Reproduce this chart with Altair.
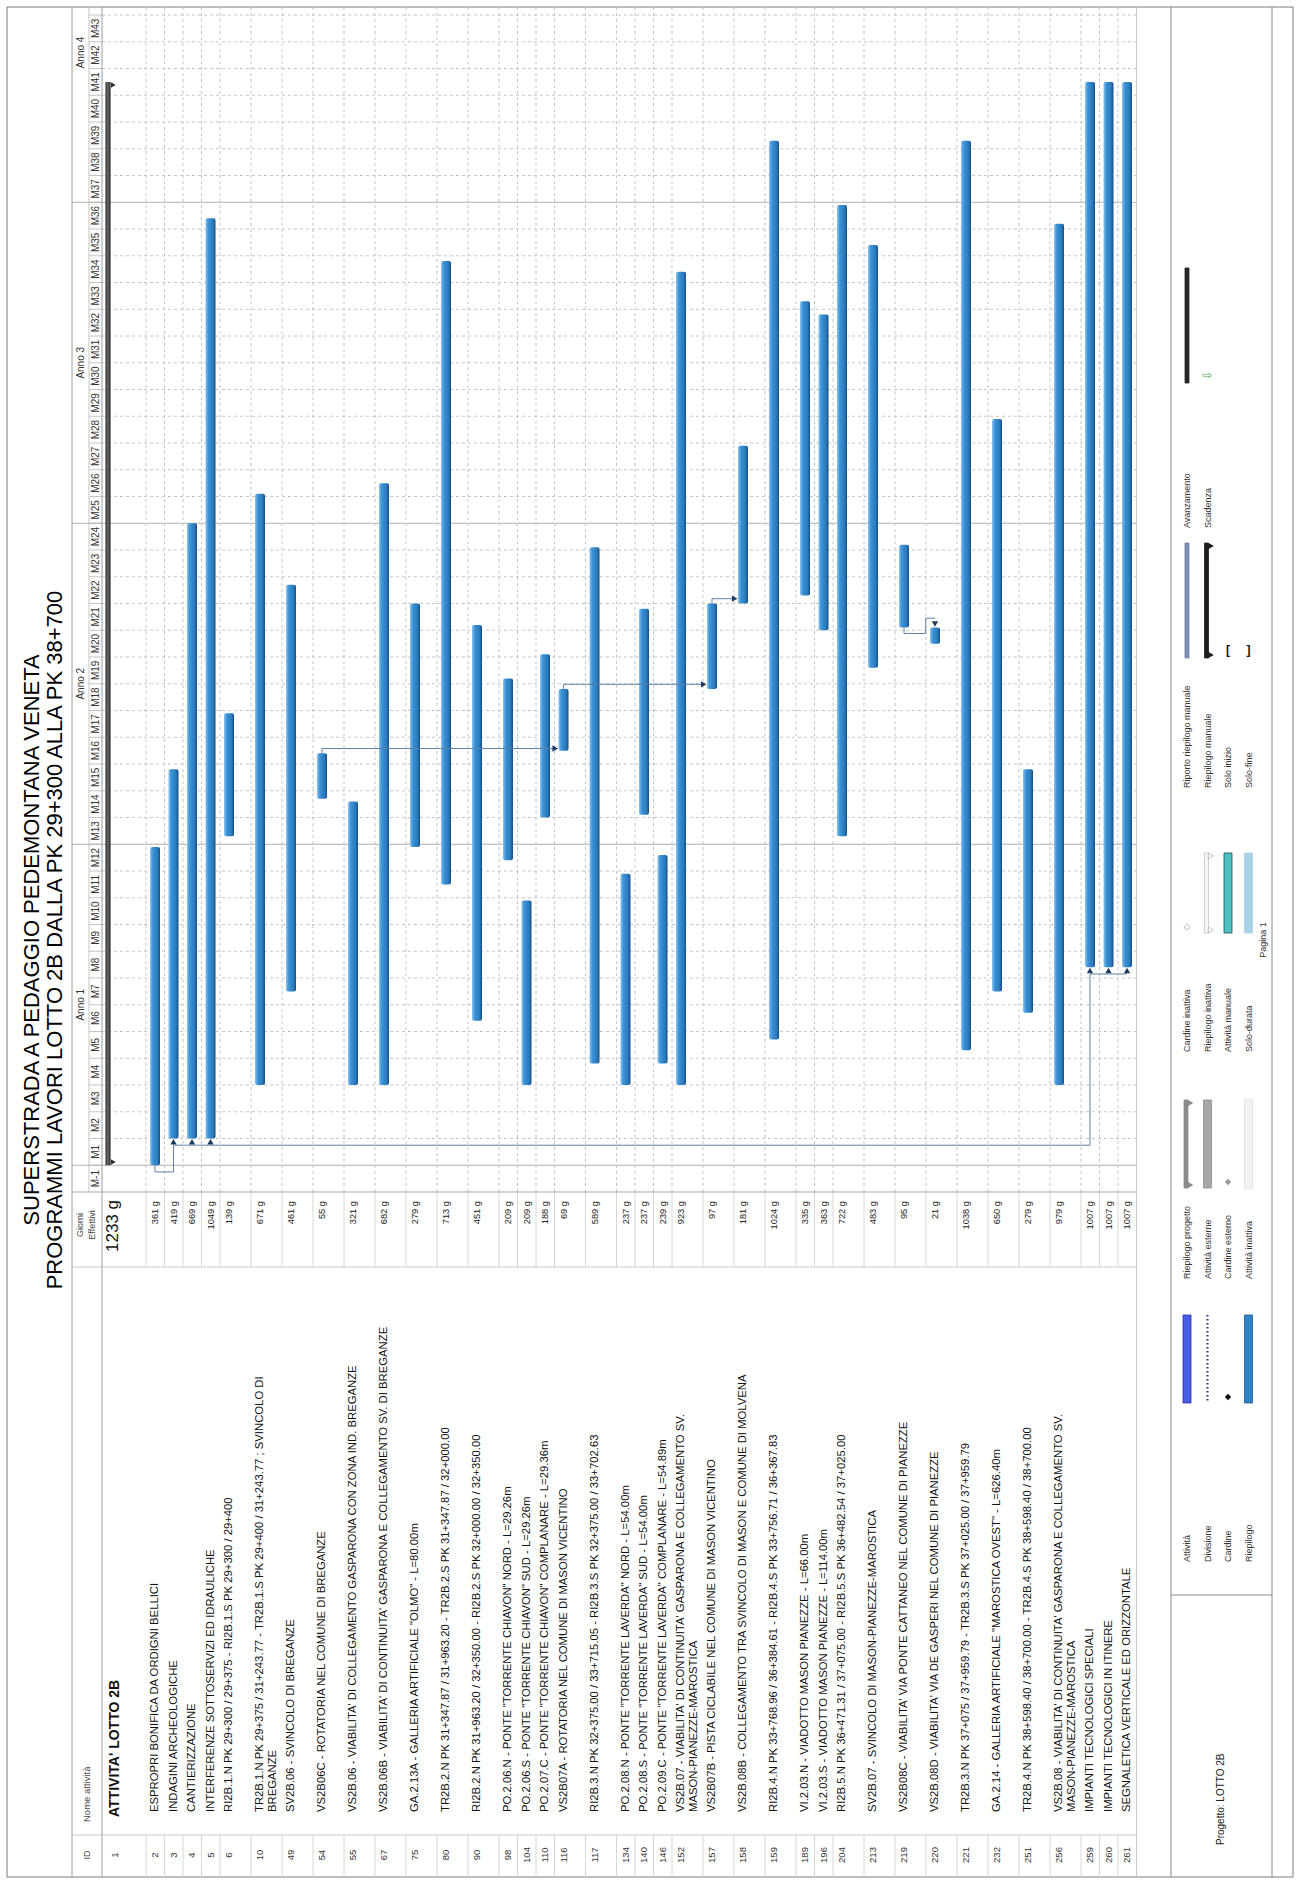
import altair as alt
import pandas as pd

# ------------------------------------------------------------------ data
IDS = [1, 2, 3, 4, 5, 6, 10, 49, 54, 55, 67, 75, 80, 90, 98, 104, 110, 116, 117,
       134, 140, 146, 152, 157, 158, 159, 189, 196, 204, 213, 219, 220, 221, 232,
       251, 256, 259, 260, 261]
NAMES = [
    "ATTIVITA' LOTTO 2B",
    "ESPROPRI BONIFICA DA ORDIGNI BELLICI",
    "INDAGINI ARCHEOLOGICHE",
    "CANTIERIZZAZIONE",
    "INTERFERENZE SOTTOSERVIZI ED IDRAULICHE",
    "RI2B.1.N PK 29+300 / 29+375 - RI2B.1.S PK 29+300 / 29+400",
    "TR2B.1.N PK 29+375 / 31+243.77 - TR2B.1.S PK 29+400 / 31+243.77 ; SVINCOLO DI\nBREGANZE",
    "SV2B.06 - SVINCOLO DI BREGANZE",
    "VS2B06C - ROTATORIA NEL COMUNE DI BREGANZE",
    "VS2B.06 - VIABILITA' DI COLLEGAMENTO GASPARONA CON ZONA IND. BREGANZE",
    "VS2B.06B - VIABILITA' DI CONTINUITA' GASPARONA E COLLEGAMENTO SV. DI BREGANZE",
    "GA.2.13A - GALLERIA ARTIFICIALE \"OLMO\" - L=80.00m",
    "TR2B.2.N PK 31+347.87 / 31+963.20 - TR2B.2.S PK 31+347.87 / 32+000.00",
    "RI2B.2.N PK 31+963.20 / 32+350.00 - RI2B.2.S PK 32+000.00 / 32+350.00",
    "PO.2.06.N - PONTE \"TORRENTE CHIAVON\" NORD - L=29.26m",
    "PO.2.06.S - PONTE \"TORRENTE CHIAVON\" SUD - L=29.26m",
    "PO.2.07.C - PONTE \"TORRENTE CHIAVON\" COMPLANARE - L=29.36m",
    "VS2B07A - ROTATORIA NEL COMUNE DI MASON VICENTINO",
    "RI2B.3.N PK 32+375.00 / 33+715.05 - RI2B.3.S PK 32+375.00 / 33+702.63",
    "PO.2.08.N - PONTE \"TORRENTE LAVERDA\" NORD - L=54.00m",
    "PO.2.08.S - PONTE \"TORRENTE LAVERDA\" SUD - L=54.00m",
    "PO.2.09.C - PONTE \"TORRENTE LAVERDA\" COMPLANARE - L=54.89m",
    "VS2B.07 - VIABILITA' DI CONTINUITA' GASPARONA E COLLEGAMENTO SV.\nMASON-PIANEZZE-MAROSTICA",
    "VS2B07B - PISTA CICLABILE NEL COMUNE DI MASON VICENTINO",
    "VS2B.08B - COLLEGAMENTO TRA SVINCOLO DI MASON E COMUNE DI MOLVENA",
    "RI2B.4.N PK 33+768.96 / 36+384.61 - RI2B.4.S PK 33+756.71 / 36+367.83",
    "VI.2.03.N - VIADOTTO MASON PIANEZZE - L=66.00m",
    "VI.2.03.S - VIADOTTO MASON PIANEZZE - L=114.00m",
    "RI2B.5.N PK 36+471.31 / 37+075.00 - RI2B.5.S PK 36+482.54 / 37+025.00",
    "SV2B.07 - SVINCOLO DI MASON-PIANEZZE-MAROSTICA",
    "VS2B08C - VIABILITA' VIA PONTE CATTANEO NEL COMUNE DI PIANEZZE",
    "VS2B.08D - VIABILITA' VIA DE GASPERI NEL COMUNE DI PIANEZZE",
    "TR2B.3.N PK 37+075 / 37+959.79 - TR2B.3.S PK 37+025.00 / 37+959.79",
    "GA.2.14 - GALLERIA ARTIFICIALE \"MAROSTICA OVEST\" - L=626.40m",
    "TR2B.4.N PK 38+598.40 / 38+700.00 - TR2B.4.S PK 38+598.40 / 38+700.00",
    "VS2B.08 - VIABILITA' DI CONTINUITA' GASPARONA E COLLEGAMENTO SV.\nMASON-PIANEZZE-MAROSTICA",
    "IMPIANTI TECNOLOGICI SPECIALI",
    "IMPIANTI TECNOLOGICI IN ITINERE",
    "SEGNALETICA VERTICALE ED ORIZZONTALE",
]
DAYS = [1233, 361, 419, 669, 1049, 139, 671, 461, 55, 321, 682, 279, 713, 451,
        209, 209, 188, 69, 589, 237, 237, 239, 923, 97, 181, 1024, 335, 363, 722,
        483, 95, 21, 1038, 650, 279, 979, 1007, 1007, 1007]
# start / end in months (0 = start of M1)
START = [0.0, 0.0, 1.0, 1.0, 1.0, 12.3, 3.0, 6.5, 13.7, 3.0, 3.0, 11.9, 10.5, 5.4,
         11.4, 3.0, 13.0, 15.5, 3.8, 3.0, 13.1, 3.8, 3.0, 17.8, 21.0, 4.7, 21.3,
         20.0, 12.3, 18.6, 20.1, 19.5, 4.3, 6.5, 5.7, 3.0, 7.4, 7.4, 7.4]
END = [40.5, 11.9, 14.8, 24.0, 35.4, 16.9, 25.1, 21.7, 15.4, 13.6, 25.5, 21.0,
       33.8, 20.2, 18.2, 9.9, 19.1, 17.8, 23.1, 10.9, 20.8, 11.6, 33.4, 21.0,
       26.9, 38.3, 32.3, 31.8, 35.9, 34.4, 23.2, 20.1, 38.3, 27.9, 14.8, 35.2,
       40.5, 40.5, 40.5]
# row height class of the sheet (H = header summary, S = single, T = tall)
ROW_CLASS = ["H",
             "S", "S", "S", "S",
             "T", "T", "T", "T", "T", "T", "T", "T", "T",
             "S", "S", "S",
             "T", "T",
             "S", "S", "S",
             "T", "T", "T", "T",
             "S", "S",
             "T", "T", "T", "T", "T", "T", "T", "T",
             "S", "S", "S"]

MONTH_LABELS = ["M-1"] + ["M%d" % k for k in range(1, 44)]
MONTH_MID = [-0.5] + [k - 0.5 for k in range(1, 44)]
YEAR_LABELS = ["Anno 1", "Anno 2", "Anno 3", "Anno 4"]
YEAR_MID = [6, 18, 30, 41.6]
YEAR_BOUNDS = [0, 12, 24, 36]

TITLE_1 = "SUPERSTRADA A PEDAGGIO PEDEMONTANA VENETA"
TITLE_2 = "PROGRAMMI LAVORI LOTTO 2B DALLA PK 29+300 ALLA PK 38+700"

SS_SOURCE = 2
SS_TARGETS_A = [3, 4, 5]
SS_TARGETS_B = [259, 260, 261]
FS_LINKS = [(54, 116), (116, 157), (157, 158)]
SF_LINKS = [(219, 220)]

LEGEND_LABELS = [
    ["Attività", "Divisione", "Cardine", "Riepilogo"],
    ["Riepilogo progetto", "Attività esterne", "Cardine esterno", "Attività inattiva"],
    ["Cardine inattiva", "Riepilogo inattiva", "Attività manuale", "Solo-durata"],
    ["Riporto riepilogo manuale", "Riepilogo manuale", "Solo inizio", "Solo-fine"],
    ["Avanzamento", "Scadenza"],
]
PROJECT_LABEL = "Progetto: LOTTO 2B"
PAGE_LABEL = "Pagina 1"

# ------------------------------------------------------------------ layout / style
F = "Liberation Sans, Arial, Helvetica, sans-serif"
UNIT_PX = 18.5
CLASS_PX = {"H": 44.0, "S": 18.5, "T": 31.0}
BAR_OFF_PX = {"H": 6.0, "S": 9.0, "T": 9.0}
TEXT_OFF_PX = {"H": 13.0, "S": 9.0, "T": 9.0}
GRID_X0 = 102.0
T_MIN, T_MAX = -1.0, 43.3
Y_BOTTOM, Y_TOP = 1192.0, 7.0

tops_u, acc = [], 0.0
for c in ROW_CLASS:
    tops_u.append(acc)
    acc += CLASS_PX[c] / UNIT_PX
TOTAL_U = acc
GRID_X1 = GRID_X0 + TOTAL_U * UNIT_PX
cent_u = [tp + BAR_OFF_PX[c] / UNIT_PX for tp, c in zip(tops_u, ROW_CLASS)]
text_u = [tp + TEXT_OFF_PX[c] / UNIT_PX for tp, c in zip(tops_u, ROW_CLASS)]
HALF = 5.0 / UNIT_PX

XS = alt.Scale(domain=[0, TOTAL_U], range=[GRID_X0, GRID_X1])
YS = alt.Scale(domain=[T_MIN, T_MAX], range=[Y_BOTTOM, Y_TOP])


def XU(f):
    return alt.X(f + ":Q", scale=XS, axis=None)


def YT(f):
    return alt.Y(f + ":Q", scale=YS, axis=None)


def PX(f):
    return alt.X(f + ":Q", scale=None, axis=None)


def PY(f):
    return alt.Y(f + ":Q", scale=None, axis=None)


def idx(i):
    return IDS.index(i)


ONE = pd.DataFrame({"k": [0]})
layers = []

# ---- frame and table lines (static decorations)
DECOR = [
    (72, 7, 72, 1877, "#9c9c9c", 1),
    (GRID_X0, 7, GRID_X0, 1877, "#9c9c9c", 1),
    (89, 7, 89, Y_BOTTOM, "#c4c4c4", 1),
    (72, Y_BOTTOM, GRID_X1, Y_BOTTOM, "#a6a6a6", 1),
    (72, 1267, GRID_X1, 1267, "#c8c8c8", 1),
    (72, 1835, GRID_X1, 1835, "#c8c8c8", 1),
    (GRID_X1, 7, GRID_X1, 1877, "#c8c8c8", 1),
    (1171, 7, 1171, 1877, "#8a8a8a", 1),
    (1272, 7, 1272, 1877, "#8a8a8a", 1),
    (1171, 1595, 1272, 1595, "#8a8a8a", 1),
]
ddf = pd.DataFrame(DECOR, columns=["x1", "y1", "x2", "y2", "col", "w"])
layers.append(alt.Chart(ONE).mark_rect(filled=False, stroke="#7a7a7a", strokeWidth=1).encode(
    x=alt.value(7), x2=alt.value(1293), y=alt.value(7), y2=alt.value(1877)))

# month grid lines (dashed) and year lines (solid)
mdf = pd.DataFrame({"t": [float(k) for k in range(1, 44) if k not in YEAR_BOUNDS]})
layers.append(alt.Chart(mdf).mark_rule(color="#c6c6c6", strokeDash=[3, 3], strokeWidth=1).encode(
    y=YT("t"), x=alt.value(GRID_X0), x2=alt.value(GRID_X1)))
ydf = pd.DataFrame({"t": [float(v) for v in YEAR_BOUNDS]})
layers.append(alt.Chart(ydf).mark_rule(color="#b0b0b0", strokeWidth=1).encode(
    y=YT("t"), x=alt.value(GRID_X0), x2=alt.value(GRID_X1)))
# header ticks
hdf = pd.DataFrame({"t": [float(k) for k in range(0, 44)]})
layers.append(alt.Chart(hdf).mark_rule(color="#c4c4c4", strokeWidth=1).encode(
    y=YT("t"), x=alt.value(89), x2=alt.value(GRID_X0)))
layers.append(alt.Chart(ydf).mark_rule(color="#b3b3b3", strokeWidth=1).encode(
    y=YT("t"), x=alt.value(72), x2=alt.value(GRID_X0)))

# row boundary lines
rdf = pd.DataFrame({"u": tops_u[1:] + [TOTAL_U]})
layers.append(alt.Chart(rdf).mark_rule(color="#c6c6c6", strokeDash=[3, 3], strokeWidth=1).encode(
    x=XU("u"), y=alt.value(Y_TOP), y2=alt.value(Y_BOTTOM)))
layers.append(alt.Chart(rdf).mark_rule(color="#d6d6d6", strokeWidth=1).encode(
    x=XU("u"), y=alt.value(Y_BOTTOM), y2=alt.value(1267)))
layers.append(alt.Chart(rdf).mark_rule(color="#d6d6d6", strokeWidth=1).encode(
    x=XU("u"), y=alt.value(1835), y2=alt.value(1877)))

layers.append(alt.Chart(ddf).mark_rule().encode(
    x=PX("x1"), x2=alt.X2("x2:Q"), y=PY("y1"), y2=alt.Y2("y2:Q"),
    color=alt.Color("col:N", scale=None), strokeWidth=alt.StrokeWidth("w:Q", scale=None)))

# ---- bars
bars = pd.DataFrame({
    "u0": [cent_u[i] - HALF for i in range(1, len(IDS))],
    "u1": [cent_u[i] + HALF for i in range(1, len(IDS))],
    "t0": START[1:], "t1": END[1:],
})
bar_grad = alt.LinearGradient(
    gradient="linear",
    stops=[alt.GradientStop(offset=0, color="#8cc5f0"),
           alt.GradientStop(offset=0.28, color="#3d92d6"),
           alt.GradientStop(offset=0.75, color="#2a7abd"),
           alt.GradientStop(offset=1, color="#174c80")],
    x1=0, x2=1, y1=0, y2=0)
layers.append(alt.Chart(bars).mark_rect(fill=bar_grad, cornerRadius=2).encode(
    x=XU("u0"), x2=alt.X2("u1:Q"), y=YT("t0"), y2=alt.Y2("t1:Q")))

sum_grad = alt.LinearGradient(
    gradient="linear",
    stops=[alt.GradientStop(offset=0, color="#202020"),
           alt.GradientStop(offset=0.45, color="#6e6e6e"),
           alt.GradientStop(offset=1, color="#1a1a1a")],
    x1=0, x2=1, y1=0, y2=0)
sdf = pd.DataFrame({"u0": [cent_u[0] - 2.5 / UNIT_PX], "u1": [cent_u[0] + 2.5 / UNIT_PX],
                    "t0": [START[0]], "t1": [END[0]]})
layers.append(alt.Chart(sdf).mark_rect(fill=sum_grad).encode(
    x=XU("u0"), x2=alt.X2("u1:Q"), y=YT("t0"), y2=alt.Y2("t1:Q")))

# ---- links
segs = []
tri = []
s_src = START[idx(SS_SOURCE)]
c_src = cent_u[idx(SS_SOURCE)]
ca = cent_u[idx(SS_TARGETS_A[0])]
lvl_a = START[idx(SS_TARGETS_A[0])] - 0.25
cb0 = cent_u[idx(SS_TARGETS_B[0])]
cb1 = cent_u[idx(SS_TARGETS_B[-1])]
lvl_b = START[idx(SS_TARGETS_B[0])] - 0.25
segs += [
    (c_src, s_src, c_src, s_src - 0.25),
    (c_src, s_src - 0.25, ca, s_src - 0.25),
    (ca, s_src - 0.25, ca, lvl_a),
    (ca, lvl_a, cb0, lvl_a),
    (cb0, lvl_a, cb0, lvl_b),
    (cb0, lvl_b, cb1, lvl_b),
]
for r in SS_TARGETS_A + SS_TARGETS_B:
    tri.append((cent_u[idx(r)], START[idx(r)] - 0.12, "triangle-up"))
for a, b in FS_LINKS:
    cA, cB = cent_u[idx(a)], cent_u[idx(b)]
    lvl = END[idx(a)] + 0.18
    segs += [(cA, END[idx(a)], cA, lvl), (cA, lvl, cB - HALF - 4 / UNIT_PX, lvl)]
    tri.append((cB - HALF - 3.3 / UNIT_PX, lvl, "triangle-right"))
for a, b in SF_LINKS:
    cA, cB = cent_u[idx(a)], cent_u[idx(b)]
    mid = cA + 0.7 * (cB - cA)
    lo = START[idx(a)] - 0.22
    hi = END[idx(b)] + 0.35
    segs += [(cA, START[idx(a)], cA, lo), (cA, lo, mid, lo), (mid, lo, mid, hi), (mid, hi, cB, hi)]
    tri.append((cB, END[idx(b)] + 0.13, "triangle-down"))
segdf = pd.DataFrame(segs, columns=["ua", "ta", "ub", "tb"])
layers.append(alt.Chart(segdf).mark_rule(color="#5f83a6", strokeWidth=1).encode(
    x=XU("ua"), x2=alt.X2("ub:Q"), y=YT("ta"), y2=alt.Y2("tb:Q")))
tridf = pd.DataFrame(tri, columns=["u", "t", "shape"])
layers.append(alt.Chart(tridf).mark_point(filled=True, size=40, opacity=1, color="#1d3b5e").encode(
    x=XU("u"), y=YT("t"), shape=alt.Shape("shape:N", scale=None)))
# summary end markers
smk = pd.DataFrame({"u": [cent_u[0] + 5.3 / UNIT_PX] * 2,
                    "t": [START[0] + 0.12, END[0] - 0.12]})
layers.append(alt.Chart(smk).mark_point(filled=True, size=30, opacity=1, color="#2a2a2a",
                                        shape="triangle-right").encode(x=XU("u"), y=YT("t")))


# ---- texts
def tl(df, xenc, yenc, align, size, weight="normal", color="#111111", font=F):
    return alt.Chart(df).mark_text(angle=270, align=align, baseline="middle", fontSize=size,
                                   fontWeight=weight, color=color, font=font).encode(
        x=xenc, y=yenc, text="text:N")


# title and headers
layers.append(tl(pd.DataFrame({"px": [32, 55], "py": [940, 940], "text": [TITLE_1, TITLE_2]}),
                 PX("px"), PY("py"), "center", 22, color="#000000"))
layers.append(tl(pd.DataFrame({"px": [87, 80, 92], "py": [1855, 1225, 1225],
                               "text": ["ID", "Giorni", "Effettivi"]}),
                 PX("px"), PY("py"), "center", 9, color="#444444"))
layers.append(tl(pd.DataFrame({"px": [87], "py": [1822], "text": ["Nome attività"]}),
                 PX("px"), PY("py"), "left", 9.5, color="#444444"))
layers.append(tl(pd.DataFrame({"t": MONTH_MID, "text": MONTH_LABELS}),
                 alt.value(96), YT("t"), "center", 10, color="#333333"))
layers.append(tl(pd.DataFrame({"t": YEAR_MID, "text": YEAR_LABELS}),
                 alt.value(81), YT("t"), "center", 10, color="#333333"))

# sheet rows
name_rows = []
for i in range(1, len(IDS)):
    for j, line in enumerate(NAMES[i].split("\n")):
        name_rows.append((text_u[i] + j * 13.0 / UNIT_PX, line))
ndf = pd.DataFrame(name_rows, columns=["u", "text"])
layers.append(tl(ndf, XU("u"), alt.value(1812), "left", 11.3))
layers.append(tl(pd.DataFrame({"u": [text_u[0]], "text": [NAMES[0]]}),
                 XU("u"), alt.value(1817), "left", 14, weight="bold"))
layers.append(tl(pd.DataFrame({"u": text_u, "text": [str(v) for v in IDS]}),
                 XU("u"), alt.value(1855), "center", 9.5, color="#333333"))
layers.append(tl(pd.DataFrame({"u": text_u[1:], "text": ["%d g" % d for d in DAYS[1:]]}),
                 XU("u"), alt.value(1201), "right", 9.3, color="#222222"))
layers.append(tl(pd.DataFrame({"u": [text_u[0] - 0.1], "text": ["%d g" % DAYS[0]]}),
                 XU("u"), alt.value(1200), "right", 17, color="#111111"))

# ---- legend
LEG_ROW_X = [1187, 1207.5, 1228, 1248.5]
LEG_COLS = [(1562, 1403, 1315), (1279, 1188, 1100), (1052, 933, 853),
            (788, 658, 543), (528, 383, 268)]
LEG_STYLE = [
    [("bar", "#4a5be6", "#26309c"), ("dots", "#1b2a9e", None), ("diamond", "#111111", None),
     ("bar", "#2f82c6", "#1b5a92")],
    [("summary", "#8c8c8c", None), ("bar", "#a8a8a8", "#8a8a8a"), ("diamond", "#9a9a9a", None),
     ("bar", "#f3f3f3", "#dcdcdc")],
    [("diamondo", "#bdbdbd", None), ("summaryo", "#c4c4c4", None), ("bar", "#4fc0c2", "#1f4f50"),
     ("bar", "#a8d2ea", "#a8d2ea")],
    [("thin", "#7d8fb5", "#6d7fa5"), ("summary", "#1e1e1e", None), ("text", "[", None),
     ("text", "]", None)],
    [("thin", "#262626", "#262626"), ("arrow", "#7cc07c", None)],
]
lab_rows, rects, pts_f, pts_o, dots, symtext = [], [], [], [], [], []
for ci, (lab_y, s_top, s_bot) in enumerate(LEG_COLS):
    for ri, lab in enumerate(LEGEND_LABELS[ci]):
        rx = LEG_ROW_X[ri]
        lab_rows.append((rx, lab_y, lab))
        kind, c1, c2 = LEG_STYLE[ci][ri]
        if kind == "bar":
            rects.append((rx - 4, rx + 4, s_bot, s_top, c1, c2))
        elif kind == "thin":
            rects.append((rx - 2, rx + 2, s_bot, s_top, c1, c2))
        elif kind in ("summary", "summaryo"):
            fillc = c1 if kind == "summary" else "#f7f7f7"
            rects.append((rx - 3, rx + 1, s_bot, s_top, fillc, c1))
            for yy in (s_top - 3, s_bot + 3):
                (pts_f if kind == "summary" else pts_o).append((rx + 3.5, yy, "triangle-right", c1))
        elif kind == "diamond":
            pts_f.append((rx, s_top - 6, "diamond", c1))
        elif kind == "diamondo":
            pts_o.append((rx, s_top - 6, "diamond", c1))
        elif kind == "dots":
            dots.append((rx, s_bot, s_top, c1))
        elif kind == "text":
            symtext.append((rx, s_top - 8, c1, "#111111", F))
        elif kind == "arrow":
            symtext.append((rx, s_top - 8, "⇨", c1, "DejaVu Sans"))

layers.append(tl(pd.DataFrame(lab_rows, columns=["px", "py", "text"]),
                 PX("px"), PY("py"), "left", 9, color="#333333"))
rdf2 = pd.DataFrame(rects, columns=["x1", "x2", "y1", "y2", "fill", "stroke"])
layers.append(alt.Chart(rdf2).mark_rect(strokeWidth=0.8).encode(
    x=PX("x1"), x2=alt.X2("x2:Q"), y=PY("y1"), y2=alt.Y2("y2:Q"),
    fill=alt.Fill("fill:N", scale=None), stroke=alt.Stroke("stroke:N", scale=None)))
if pts_f:
    layers.append(alt.Chart(pd.DataFrame(pts_f, columns=["px", "py", "shape", "c"])).mark_point(
        filled=True, size=40, opacity=1).encode(
        x=PX("px"), y=PY("py"), shape=alt.Shape("shape:N", scale=None),
        color=alt.Color("c:N", scale=None)))
if pts_o:
    layers.append(alt.Chart(pd.DataFrame(pts_o, columns=["px", "py", "shape", "c"])).mark_point(
        filled=False, size=40, opacity=1, strokeWidth=1).encode(
        x=PX("px"), y=PY("py"), shape=alt.Shape("shape:N", scale=None),
        color=alt.Color("c:N", scale=None)))
dd = pd.DataFrame(dots, columns=["px", "y1", "y2", "c"])
layers.append(alt.Chart(dd).mark_rule(strokeDash=[1.5, 2.5], strokeWidth=2).encode(
    x=PX("px"), y=PY("y1"), y2=alt.Y2("y2:Q"), color=alt.Color("c:N", scale=None)))
for (sx, sy, st, sc, sf) in symtext:
    layers.append(alt.Chart(pd.DataFrame({"px": [sx], "py": [sy], "text": [st]})).mark_text(
        fontSize=12, fontWeight="bold", color=sc, font=sf, align="center", baseline="middle").encode(
        x=PX("px"), y=PY("py"), text="text:N"))

layers.append(tl(pd.DataFrame({"px": [1221], "py": [1845], "text": [PROJECT_LABEL]}),
                 PX("px"), PY("py"), "left", 10, color="#222222"))
layers.append(tl(pd.DataFrame({"px": [1263], "py": [940], "text": [PAGE_LABEL]}),
                 PX("px"), PY("py"), "center", 9, color="#333333"))

chart = alt.layer(*layers).properties(
    width=1300, height=1881, autosize=alt.AutoSizeParams(type="none"), padding=0,
    background="white",
).configure_view(stroke=None)

chart.save("out.html", embed_options={"renderer": "svg", "actions": False})
